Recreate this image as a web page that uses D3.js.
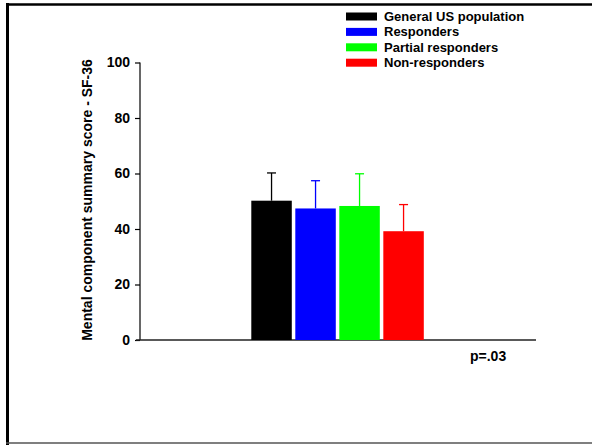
<!DOCTYPE html>
<html><head><meta charset="utf-8">
<script src="https://cdn.jsdelivr.net/npm/d3@7"></script>
<style>body{margin:0;background:#fff}svg{display:block}text{font-family:"Liberation Sans",Arial,sans-serif;font-weight:bold;fill:#000}</style>
</head><body><svg id="c" width="592" height="445"></svg>
<script>
const categories = ["General US population","Responders","Partial responders","Non-responders"];
const means = [50.2, 47.4, 48.3, 39.2];
const sds = [10.0, 10.0, 11.6, 9.6];
const colors = ["#000000","#0000ff","#00ff00","#ff0000"];
const yTicks = [0,20,40,60,80,100];
const yTitle = "Mental component summary score - SF-36";
const pText = "p=.03";

const svg = d3.select("#c");
// frame
svg.append("line").attr("x1",6).attr("x2",592).attr("y1",4.5).attr("y2",4.5).attr("stroke","#000").attr("stroke-width",2.5);
svg.append("line").attr("x1",7.5).attr("x2",7.5).attr("y1",3).attr("y2",445).attr("stroke","#000").attr("stroke-width",3);
svg.append("line").attr("x1",6).attr("x2",592).attr("y1",443).attr("y2",443).attr("stroke","#555").attr("stroke-width",1.5);

const y = d3.scaleLinear().domain([0,100]).range([340,62.5]);
const x = d3.scaleBand().domain(categories).range([251.3,423.8]).paddingInner(0.08).paddingOuter(0);

const axisX = 140;
const yAxis = d3.axisLeft(y).tickValues(yTicks).tickSize(5).tickPadding(5).tickFormat(d3.format("d"));
const ga = svg.append("g").attr("transform",`translate(${axisX},0)`).call(yAxis)
  .attr("font-size",null).attr("font-family",null);
ga.select(".domain").attr("d",`M0,${y(100)}V${y(0)}`).attr("stroke","#000").attr("stroke-width",1.2);
ga.selectAll(".tick line").attr("stroke","#000").attr("stroke-width",1.2);
ga.selectAll(".tick text").style("font-size","14px").style("font-weight","bold").attr("fill","#000")
  .style("font-family","'Liberation Sans',Arial,sans-serif");

// baseline
svg.append("line").attr("x1",136).attr("x2",536).attr("y1",y(0)).attr("y2",y(0)).attr("stroke","#222").attr("stroke-width",1.5);

// error bars
const eb = svg.append("g");
categories.forEach((c,i)=>{
  const cx = x(c)+x.bandwidth()/2;
  eb.append("line").attr("x1",cx).attr("x2",cx).attr("y1",y(means[i])).attr("y2",y(means[i]+sds[i])).attr("stroke",colors[i]).attr("stroke-width",1.3);
  eb.append("line").attr("x1",cx-4.5).attr("x2",cx+4.5).attr("y1",y(means[i]+sds[i])).attr("y2",y(means[i]+sds[i])).attr("stroke",colors[i]).attr("stroke-width",1.3);
});

// bars
svg.append("g").selectAll("rect").data(categories).join("rect")
  .attr("x",d=>x(d)).attr("width",x.bandwidth())
  .attr("y",(d,i)=>y(means[i])).attr("height",(d,i)=>y(0)-y(means[i]))
  .attr("fill",(d,i)=>colors[i]);

// y title
svg.append("text").attr("transform",`translate(92,200) rotate(-90)`).attr("text-anchor","middle")
  .style("font-size","14px").text(yTitle);

// p value
svg.append("text").attr("x",470).attr("y",361).style("font-size","14px").text(pText);

// legend
const lg = svg.append("g");
categories.forEach((c,i)=>{
  const ry = 16 + i*15.4;
  lg.append("rect").attr("x",346).attr("y",ry-3.5).attr("width",31).attr("height",8).attr("fill",colors[i]);
  lg.append("text").attr("x",384).attr("y",ry+4.7).style("font-size","13px").text(c);
});
</script></body></html>
